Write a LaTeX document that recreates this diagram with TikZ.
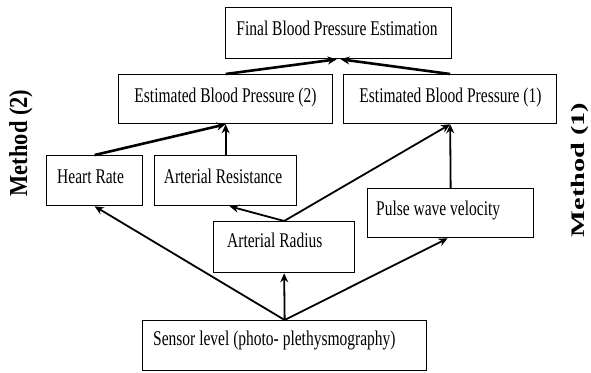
\documentclass[tikz,border=0pt]{standalone}
\usepackage{fontspec}
\setmainfont{Liberation Serif}
\usetikzlibrary{arrows.meta,calc}
\newcommand\vstretch[1]{\scalebox{1}[1.35]{#1}}
\begin{document}
\begin{tikzpicture}[x=1pt,y=-1pt,
  box/.style={draw, line width=1.3pt, inner sep=0pt, anchor=north west},
  lbl/.style={inner sep=0pt, font=\fontsize{15.5}{18}\selectfont},
  conn/.style={line width=1.8pt, -{Stealth[length=9pt,width=8pt]}},
  connb/.style={conn, line width=2.6pt},
  meth/.style={inner sep=0pt, font=\bfseries\fontsize{22.5}{26}\selectfont}]
\useasboundingbox (0,0) rectangle (591,372);
% boxes
\node[box, minimum width=226pt, minimum height=51pt] (final) at (225,7) {};
\node[box, minimum width=214pt, minimum height=49pt] (est2) at (118,74) {};
\node[box, minimum width=213pt, minimum height=49pt] (est1) at (343,74) {};
\node[box, minimum width=96pt, minimum height=50pt] (hr) at (46,155) {};
\node[box, minimum width=142pt, minimum height=50pt] (ar) at (154,155) {};
\node[box, minimum width=141pt, minimum height=51pt] (rad) at (213,221) {};
\node[box, minimum width=166pt, minimum height=49pt] (pwv) at (367,188) {};
\node[box, minimum width=284pt, minimum height=50pt] (sensor) at (142,320) {};
% texts
\node[lbl, anchor=base] (finalt) at (337,35) {\vstretch{Final Blood Pressure Estimation}};
\node[lbl, anchor=base] (est2t) at (225.5,102) {\vstretch{Estimated Blood Pressure (2)}};
\node[lbl, anchor=base] (est1t) at (450.5,102) {\vstretch{Estimated Blood Pressure (1)}};
\node[lbl, anchor=base west] (hrt) at (57,183) {\vstretch{Heart Rate}};
\node[lbl, anchor=base] (art) at (223,183) {\vstretch{Arterial Resistance}};
\node[lbl, anchor=base west] (radt) at (227,247) {\vstretch{Arterial Radius}};
\node[lbl, anchor=base west] (pwvt) at (376,215) {\vstretch{Pulse wave velocity}};
\node[lbl, anchor=base west] (sensort) at (153,345) {\vstretch{Sensor level (photo- plethysmography)}};
% method labels
\node[meth, rotate=90] (m2) at (21,143) {\scalebox{1}[1.15]{Method (2)}};
\node[meth, rotate=90] (m1) at (580,170) {\scalebox{1.26}[0.85]{Method (1)}};
% connectors
\draw[connb] (est2.north) -- ([xshift=-2pt]final.south);
\draw[connb] (est1.north) -- ([xshift=2pt]final.south);
\draw[connb] (hr.north) -- (est2.south);
\draw[conn] (ar.north) -- (est2.south);
\draw[conn] (rad.north) -- (est1.south);
\draw[conn] (pwv.north) -- (est1.south);
\draw[conn] (rad.north) -- ([xshift=4pt]ar.south);
\draw[conn] (sensor.north) -- (hr.south);
\draw[conn] (sensor.north) -- (rad.south);
\draw[conn] (sensor.north) -- ([xshift=-3pt]pwv.south);
\end{tikzpicture}
\end{document}
